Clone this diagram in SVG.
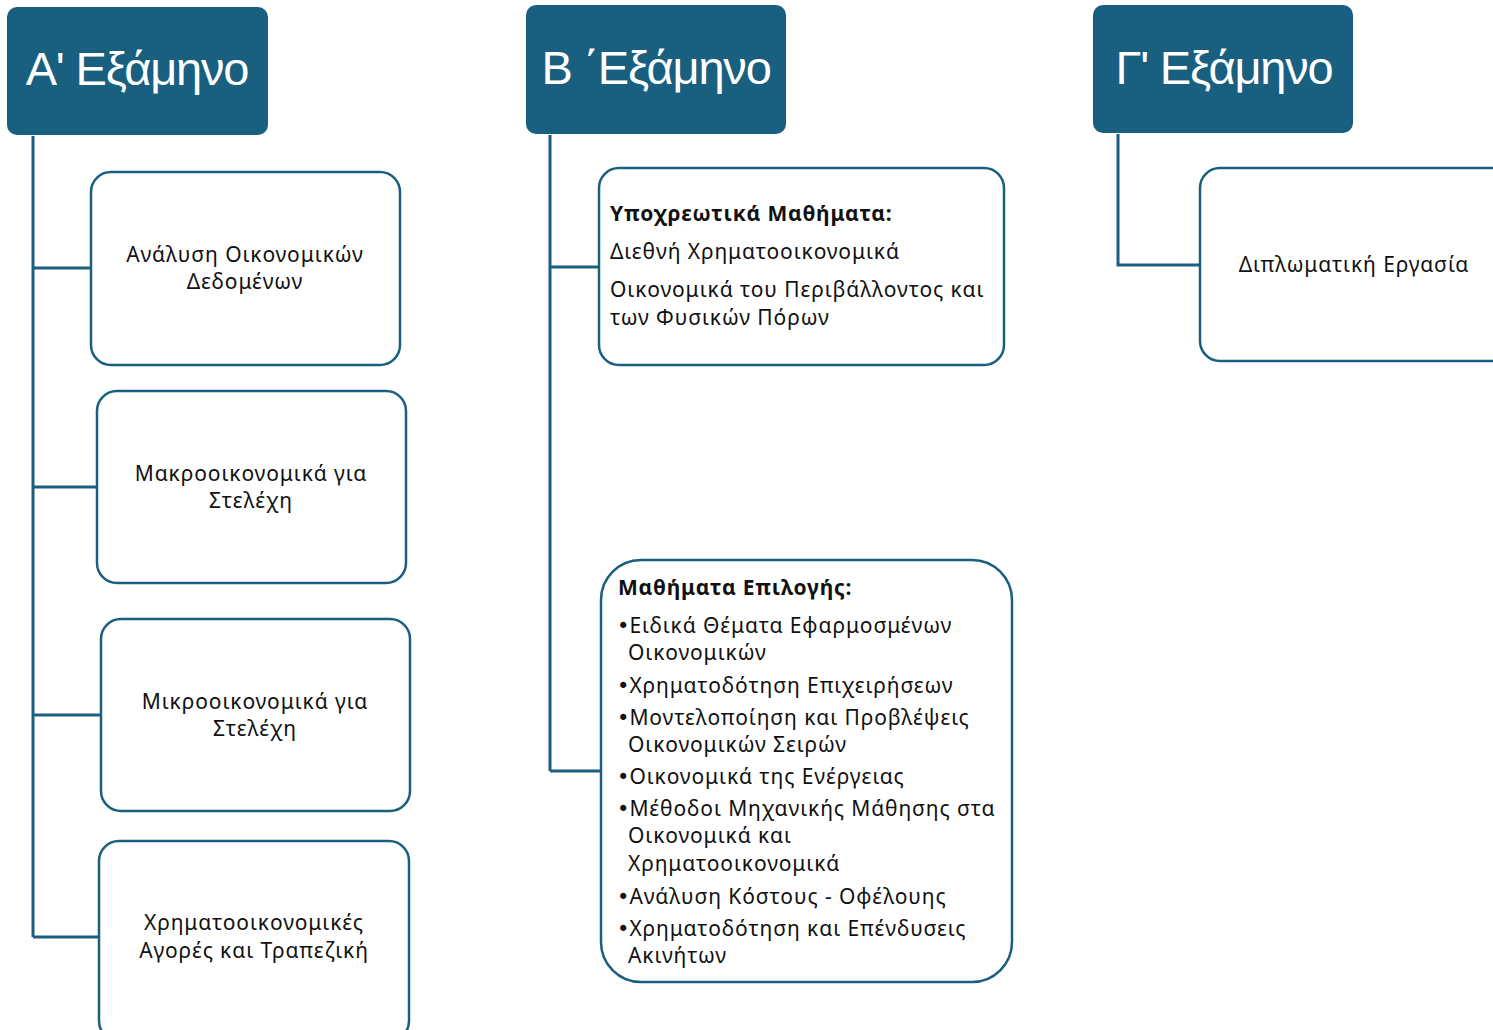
<svg xmlns="http://www.w3.org/2000/svg" width="1493" height="1030" viewBox="0 0 1493 1030">
<style>
.hdr{fill:#195f80;}
.htx{fill:#fff;font-family:"Liberation Sans",Arial,sans-serif;font-size:47px;letter-spacing:-1.2px;text-anchor:middle;}
.box{fill:#fff;stroke:#1a5f80;stroke-width:2.5;}
.conn{fill:none;stroke:#1a5f80;stroke-width:3;}
.t{fill:#111;font-family:"Noto Sans",sans-serif;font-size:21px;letter-spacing:0.9px;}
.c{text-anchor:middle;}
.b{font-weight:bold;letter-spacing:0.8px;}
.bu{font-family:"DejaVu Sans",sans-serif;letter-spacing:0;}
</style>
<rect width="1493" height="1030" fill="#fff"/>
<g id="connectors">
<path class="conn" d="M33 136V937M33 268H91M33 487H97M33 715H101M33 937H99"/>
<path class="conn" d="M550 135V771M550 267H599M550 771H601"/>
<path class="conn" d="M1118 134V265H1200"/>
</g>
<g id="hdrA"><rect class="hdr" x="7" y="7" width="261" height="128" rx="10"/><text class="htx" x="137" y="85">A' Εξάμηνο</text></g>
<g id="hdrB"><rect class="hdr" x="526" y="5" width="260" height="129" rx="10"/><text class="htx" x="656" y="84">Β ΄Εξάμηνο</text></g>
<g id="hdrC"><rect class="hdr" x="1093" y="5" width="260" height="128" rx="10"/><text class="htx" x="1224" y="84">Γ' Εξάμηνο</text></g>
<g id="a1"><rect class="box" x="91" y="172" width="309" height="193" rx="20"/><text class="t c" x="245" y="262">Ανάλυση Οικονομικών</text><text class="t c" x="245" y="289">Δεδομένων</text></g>
<g id="a2"><rect class="box" x="97" y="391" width="309" height="192" rx="20"/><text class="t c" x="251" y="481">Μακροοικονομικά για</text><text class="t c" x="251" y="508">Στελέχη</text></g>
<g id="a3"><rect class="box" x="101" y="619" width="309" height="192" rx="20"/><text class="t c" x="255" y="709">Μικροοικονομικά για</text><text class="t c" x="255" y="736">Στελέχη</text></g>
<g id="a4"><rect class="box" x="99" y="841" width="310" height="200" rx="20"/><text class="t c" x="254" y="930">Χρηματοοικονομικές</text><text class="t c" x="254" y="958">Αγορές και Τραπεζική</text></g>
<g id="b1"><rect class="box" x="599" y="168" width="405" height="197" rx="20"/>
<text class="t b" x="610" y="221">Υποχρεωτικά Μαθήματα:</text>
<text class="t" x="610" y="259">Διεθνή Χρηματοοικονομικά</text>
<text class="t" x="610" y="297">Οικονομικά του Περιβάλλοντος και</text>
<text class="t" x="610" y="325">των Φυσικών Πόρων</text></g>
<g id="b2"><rect class="box" x="601" y="560" width="411" height="422" rx="40"/>
<text class="t b" x="618" y="595">Μαθήματα Επιλογής:</text>
<text class="t" x="617" y="633"><tspan class="bu">•</tspan>Ειδικά Θέματα Εφαρμοσμένων</text>
<text class="t" x="628" y="660">Οικονομικών</text>
<text class="t" x="617" y="693"><tspan class="bu">•</tspan>Χρηματοδότηση Επιχειρήσεων</text>
<text class="t" x="617" y="725"><tspan class="bu">•</tspan>Μοντελοποίηση και Προβλέψεις</text>
<text class="t" x="628" y="752">Οικονομικών Σειρών</text>
<text class="t" x="617" y="784"><tspan class="bu">•</tspan>Οικονομικά της Ενέργειας</text>
<text class="t" x="617" y="816"><tspan class="bu">•</tspan>Μέθοδοι Μηχανικής Μάθησης στα</text>
<text class="t" x="628" y="843">Οικονομικά και</text>
<text class="t" x="628" y="871">Χρηματοοικονομικά</text>
<text class="t" x="617" y="904"><tspan class="bu">•</tspan>Ανάλυση Κόστους - Οφέλουης</text>
<text class="t" x="617" y="936"><tspan class="bu">•</tspan>Χρηματοδότηση και Επένδυσεις</text>
<text class="t" x="628" y="963">Ακινήτων</text></g>
<g id="c1"><rect class="box" x="1200" y="168" width="320" height="193" rx="20"/><text class="t c" x="1354" y="272">Διπλωματική Εργασία</text></g>
</svg>
